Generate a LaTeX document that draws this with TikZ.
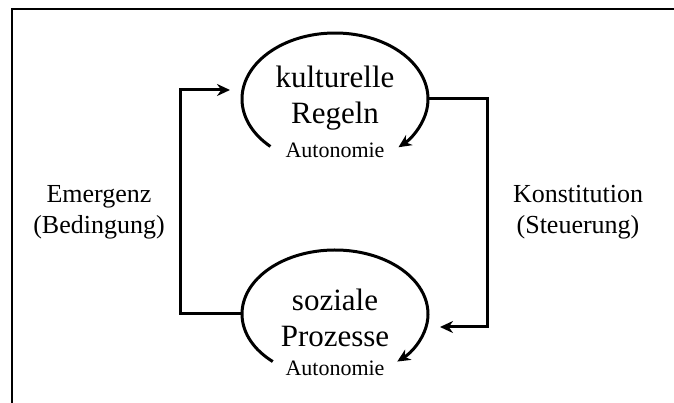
\documentclass[tikz,border=0pt]{standalone}
\usepackage{fontspec}
\setmainfont{Liberation Serif}
\usepackage{tikz}
\usetikzlibrary{arrows.meta, positioning, calc, shapes.geometric}

\begin{document}
\begin{tikzpicture}[x=1pt, y=1pt,
		ring/.style={ellipse, minimum width=186pt, minimum height=132pt, inner sep=0pt},
		loopline/.style={line width=3pt, -{Stealth[length=13pt, width=12pt]}},
		conn/.style={line width=3pt, -{Stealth[length=13pt, width=12pt]}},
		bigtxt/.style={align=center, font=\fontsize{31}{36}\selectfont},
		autotxt/.style={font=\fontsize{22}{26}\selectfont},
		lbl/.style={align=center, font=\fontsize{26}{31}\selectfont}]
	
	\useasboundingbox (0,0) rectangle (674,403);
	
	% Frame (cut at right and bottom)
	\draw[line width=2.5pt] (674,394) -- (12,394) -- (12,0);
	
	% Cultural rules
	\node[ring] (ringK) at (335,304) {};
	\node[bigtxt] (kult) at (335,305) {kulturelle\\Regeln};
	\node[autotxt] (autoK) at (335,253) {Autonomie};
	\draw[loopline] ($(ringK.center)+(226:93pt and 66pt)$)
		arc[start angle=226, end angle=-47, x radius=93pt, y radius=66pt];
	
	% Social processes
	\node[ring] (ringS) at (335,89) {};
	\node[bigtxt] (sozial) at (335,85) {soziale\\Prozesse};
	\node[autotxt] (autoS) at (335,35) {Autonomie};
	\draw[loopline] ($(ringS.center)+(228:93pt and 64pt)$)
		arc[start angle=228, end angle=-48, x radius=93pt, y radius=64pt];
	
	% Arrow ends
	\coordinate (inK) at (230,313);
	\coordinate (inS) at (440,76);
	
	% Emergence and constitution
	\draw[conn] (ringS.west) -- ++(-61,0) |- (inK);
	\draw[conn] (ringK.east) -- ++(59,0) |- (inS);
	
	% Labels
	\node[lbl] (emerg) at (99,191) {Emergenz\\(Bedingung)};
	\node[lbl] (konst) at (578,191) {Konstitution\\(Steuerung)};
	
\end{tikzpicture}
\end{document}
